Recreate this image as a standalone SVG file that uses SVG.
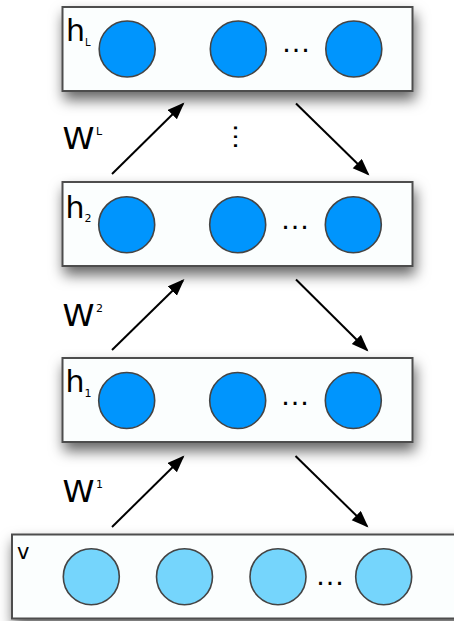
<svg xmlns="http://www.w3.org/2000/svg" width="454" height="621" viewBox="0 0 454 621">
<defs>
<filter id="sh" x="-10%" y="-30%" width="125%" height="180%">
<feDropShadow dx="2" dy="8" stdDeviation="7" flood-color="#000" flood-opacity="0.6"/>
</filter>
<marker id="ah" markerUnits="userSpaceOnUse" markerWidth="18" markerHeight="14" refX="15" refY="6.5" orient="auto" viewBox="0 0 18 14">
<path d="M0,0 L17,6.5 L0,13 z" fill="#000"/>
</marker>
</defs>
<style>
.box{fill:#fbfefe;stroke:#4d4d4d;stroke-width:2;filter:url(#sh)}
.hid{fill:#0095fd;stroke:#444;stroke-width:1.6}
.vis{fill:#75d5fc;stroke:#444;stroke-width:1.6}
.lbl{font-family:"DejaVu Sans",sans-serif;fill:#000}
.big{font-size:30px}
.sub{font-size:11px}
.sup{font-size:11px}
.dots{font-family:"Liberation Sans",sans-serif;font-size:30px;fill:#000;text-anchor:middle}
.arr{stroke:#000;stroke-width:2;fill:none;marker-end:url(#ah)}
</style>

<g id="connectors">
<line class="arr" x1="112" y1="174" x2="183" y2="104"/>
<line class="arr" x1="296" y1="103.5" x2="368" y2="174"/>
<line class="arr" x1="112" y1="350" x2="183" y2="280.5"/>
<line class="arr" x1="296" y1="279.5" x2="367" y2="350"/>
<line class="arr" x1="112" y1="527" x2="183" y2="457"/>
<line class="arr" x1="295.5" y1="456" x2="367" y2="526"/>
</g>

<g id="layer-hL">
<rect class="box" x="62.5" y="7" width="350" height="84"/>
<text class="lbl big" x="66" y="41">h</text>
<text class="lbl sub" x="85" y="45.5" style="font-size:10px">L</text>
<circle class="hid" cx="127.2" cy="49" r="28"/>
<circle class="hid" cx="238.3" cy="49" r="28"/>
<circle class="hid" cx="353.8" cy="49" r="28"/>
<text class="dots" x="296" y="52">…</text>
</g>

<g id="layer-h2">
<rect class="box" x="62.5" y="182" width="350" height="84"/>
<text class="lbl big" x="65.5" y="218">h</text>
<text class="lbl sub" x="84.5" y="222">2</text>
<circle class="hid" cx="126.7" cy="224.7" r="28"/>
<circle class="hid" cx="237.7" cy="224.7" r="28"/>
<circle class="hid" cx="353.3" cy="224.7" r="28"/>
<text class="dots" x="295" y="228.5">…</text>
</g>

<g id="layer-h1">
<rect class="box" x="62.5" y="358" width="350" height="84"/>
<text class="lbl big" x="65.5" y="392">h</text>
<text class="lbl sub" x="84.5" y="396.5">1</text>
<circle class="hid" cx="126.7" cy="400.5" r="28"/>
<circle class="hid" cx="237.7" cy="400.5" r="28"/>
<circle class="hid" cx="353.3" cy="400.5" r="28"/>
<text class="dots" x="295" y="404.5">…</text>
</g>

<g id="layer-v">
<rect class="box" x="12" y="534.5" width="460" height="84"/>
<text class="lbl" style="font-size:21px" x="17" y="558.5">v</text>
<circle class="vis" cx="91.3" cy="576.7" r="28"/>
<circle class="vis" cx="184.5" cy="576.7" r="28"/>
<circle class="vis" cx="278" cy="576.7" r="28"/>
<circle class="vis" cx="383.7" cy="576.7" r="28"/>
<text class="dots" x="330" y="584.5">…</text>
</g>

<g id="weight-labels">
<text class="lbl big" x="62.5" y="148.5" textLength="32" lengthAdjust="spacingAndGlyphs">W</text>
<text class="lbl sup" x="96" y="135">L</text>
<text class="lbl big" x="62.5" y="325.5" textLength="32" lengthAdjust="spacingAndGlyphs">W</text>
<text class="lbl sup" x="96" y="311.5">2</text>
<text class="lbl big" x="62.5" y="502" textLength="32" lengthAdjust="spacingAndGlyphs">W</text>
<text class="lbl sup" x="96" y="487.5">1</text>
</g>

<g id="vdots">
<text class="dots" transform="translate(236.7,136.7) rotate(90)" x="0" y="3" style="font-size:28px">…</text>
</g>
</svg>
